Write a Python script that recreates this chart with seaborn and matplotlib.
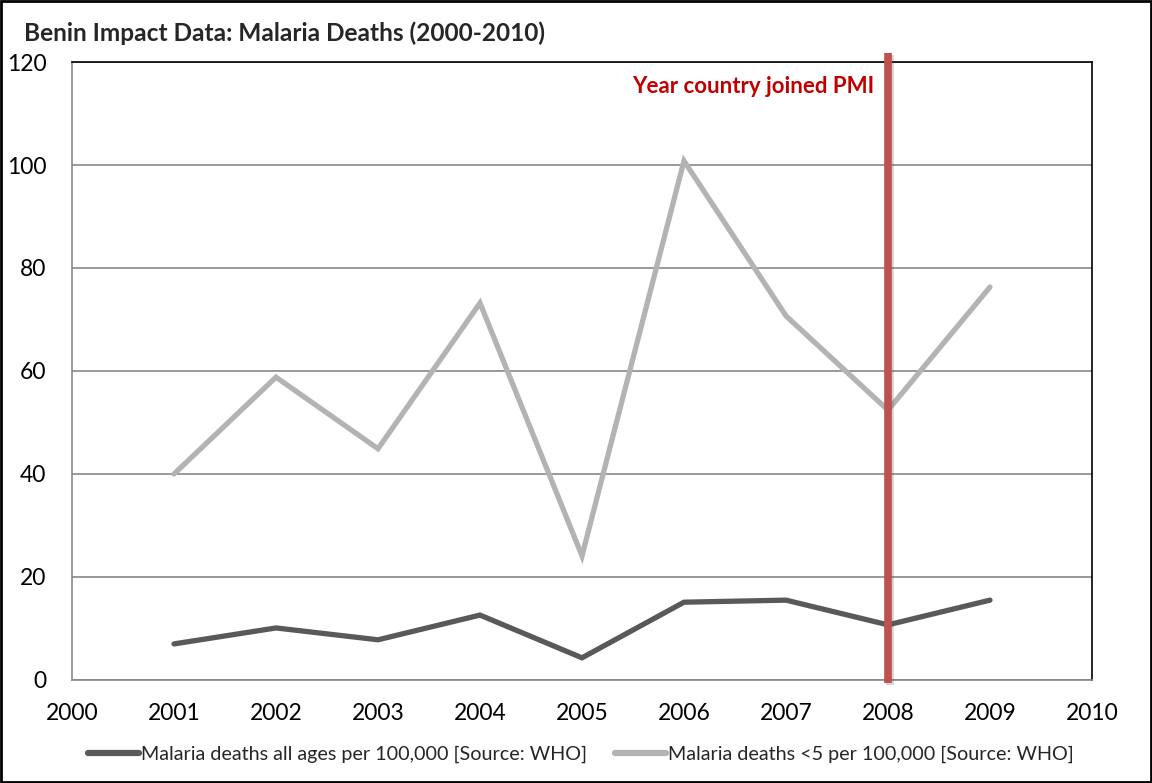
import matplotlib
matplotlib.use("Agg")
import matplotlib.pyplot as plt
import matplotlib.patheffects as pe
import pandas as pd
import seaborn as sns

years = [2001, 2002, 2003, 2004, 2005, 2006, 2007, 2008, 2009]
deaths_all_ages = [7.0, 10.1, 7.8, 12.6, 4.3, 15.1, 15.5, 10.7, 15.5]
deaths_under5 = [40.0, 58.8, 44.9, 73.2, 24.1, 100.8, 70.7, 52.4, 76.3]
series_names = [
    "Malaria deaths all ages per 100,000 [Source: WHO]",
    "Malaria deaths <5 per 100,000 [Source: WHO]",
]
x_ticks = list(range(2000, 2011))
y_ticks = [0, 20, 40, 60, 80, 100, 120]
pmi_year = 2008

df = pd.DataFrame({
    "Year": years * 2,
    "Deaths": deaths_all_ages + deaths_under5,
    "Series": [series_names[0]] * len(years) + [series_names[1]] * len(years),
})

sns.set_style("white")
plt.rcParams["font.family"] = ["Lato", "DejaVu Sans"]

fig = plt.figure(figsize=(11.52, 7.83), dpi=100)
ax = fig.add_axes([0.0625, 0.1316, 0.8854, 0.7892])

sns.lineplot(
    data=df, x="Year", y="Deaths", hue="Series", ax=ax,
    palette=["#595959", "#B3B3B3"], linewidth=3.8, legend=False,
)
for ln in ax.get_lines():
    ln.set_solid_capstyle("round")
    ln.set_solid_joinstyle("miter")

ax.set_xlim(2000, 2010)
ax.set_ylim(0, 120)
ax.set_xticks(x_ticks)
ax.set_yticks(y_ticks)
ax.set_xlabel("")
ax.set_ylabel("")
ax.tick_params(axis="both", labelsize=16.5, length=6.5, width=1.2,
               direction="out", color="#888888", labelcolor="black")
ax.tick_params(axis="x", pad=10)
ax.tick_params(axis="y", pad=12)

ax.yaxis.grid(True, color="#888888", linewidth=1.2)
ax.xaxis.grid(False)
ax.set_axisbelow(True)
ax.spines["left"].set_color("#888888")
ax.spines["bottom"].set_color("#888888")
ax.spines["top"].set_color("black")
ax.spines["right"].set_color("black")
for s in ax.spines.values():
    s.set_linewidth(1.2)

# PMI marker line
ax.axvline(pmi_year, ymin=-0.005, ymax=1.0146, color="#C0504D", linewidth=5.5,
           solid_capstyle="butt", clip_on=False, zorder=5,
           path_effects=[pe.SimpleLineShadow(offset=(1.5, -1.5), alpha=0.25,
                                             shadow_color="#555555"),
                         pe.Normal()])
ax.text(pmi_year - 0.13, 115.2, "Year country joined PMI", color="#C00000",
        fontsize=16, fontweight="bold", ha="right", va="center")

fig.text(0.021, 0.958, "Benin Impact Data: Malaria Deaths (2000-2010)",
         fontsize=17.6, fontweight="bold", ha="left", va="center")

handles = [plt.Line2D([], [], color=c, linewidth=4.5, solid_capstyle="round")
           for c in ["#595959", "#B3B3B3"]]
fig.legend(handles, series_names, loc="center", bbox_to_anchor=(0.504, 0.036),
           ncol=2, frameon=False, fontsize=14.2, handlelength=2.6,
           handletextpad=0.1, columnspacing=1.4)

fig.patches.append(plt.Rectangle((0.001, 0.001), 0.998, 0.998,
                                 transform=fig.transFigure, fill=False,
                                 edgecolor="black", linewidth=2))

fig.savefig("out.png", dpi=100)
